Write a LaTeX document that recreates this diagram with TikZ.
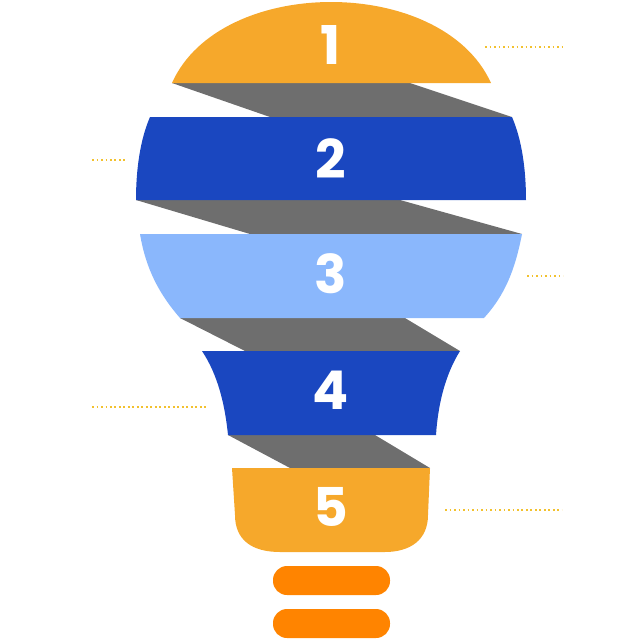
\documentclass[tikz,border=0pt]{standalone}
\usepackage{fontspec}
\setmainfont{Poppins}
\usetikzlibrary{calc}
\definecolor{bulborange}{HTML}{F6A82B}
\definecolor{bulbblue}{HTML}{1A47C0}
\definecolor{bulblight}{HTML}{8AB7FC}
\definecolor{bulbgray}{HTML}{6E6E6E}
\definecolor{caporange}{HTML}{FF8400}
\definecolor{dotyellow}{HTML}{F2C12E}
\tikzset{
  numlabel/.style={text=white,font=\fontsize{38}{40}\selectfont\bfseries,inner sep=0pt},
  guide/.style={dotyellow,line width=1.2pt,dotted},
  pill/.style={fill=caporange,rounded corners=14\pxu}
}
\newlength{\pxu}\setlength{\pxu}{0.25mm}
\begin{document}
\begin{tikzpicture}[x=0.025cm,y=-0.025cm]
    \useasboundingbox (0,0) rectangle (640,640);
    %gray shear strips
    \fill[bulbgray] (172,83) -- (410,83) -- (512,117) -- (270,117) -- cycle;
    \fill[bulbgray] (136,200) -- (400,200) -- (522,234) -- (250,234) -- cycle;
    \fill[bulbgray] (180,318) -- (405,318) -- (460,351) -- (245,351) -- cycle;
    \fill[bulbgray] (228,435) -- (375,435) -- (430,468) -- (290,468) -- cycle;
    
    %bands
    \fill[bulborange] (172,83) .. controls (220,-25) and (442,-25) .. (491,83) -- cycle;
    \fill[bulbblue] (150,117) -- (512,117) .. controls (522,140) and (526,170) .. (526,200)
        -- (136,200) .. controls (136,170) and (140,140) .. (150,117) -- cycle;
    \fill[bulblight] (140,234) -- (522,234) .. controls (515,270) and (505,295) .. (484,318)
        -- (180,318) .. controls (160,295) and (146,270) .. (140,234) -- cycle;
    \fill[bulbblue] (202,351) -- (460,351) .. controls (445,375) and (438,405) .. (436,435)
        -- (228,435) .. controls (225,405) and (218,375) .. (202,351) -- cycle;
    \fill[bulborange] (232,468) -- (430,468) -- (428,515) .. controls (428,540) and (410,552) .. (385,552)
        -- (280,552) .. controls (252,552) and (235,540) .. (235,515) -- cycle;
    
    %cap
    \fill[pill] (273,566) rectangle (390,595);
    \fill[pill] (273,609) rectangle (390,638);
    
    %numbers
    \node[numlabel] (n1) at (331,45) {1};
    \node[numlabel] (n2) at (331,159) {2};
    \node[numlabel] (n3) at (331,274) {3};
    \node[numlabel] (n4) at (331,390) {4};
    \node[numlabel] (n5) at (331,507) {5};
    
    %guides
    \coordinate (g1a) at (485,47);  \coordinate (g1b) at (562,47);
    \coordinate (g2a) at (92,160);  \coordinate (g2b) at (125,160);
    \coordinate (g3a) at (527,276); \coordinate (g3b) at (563,276);
    \coordinate (g4a) at (92,407);  \coordinate (g4b) at (207,407);
    \coordinate (g5a) at (445,510); \coordinate (g5b) at (562,510);
    \foreach \g in {1,...,5} {\draw[guide] (g\g a) -- (g\g b);}
\end{tikzpicture}
\end{document}
